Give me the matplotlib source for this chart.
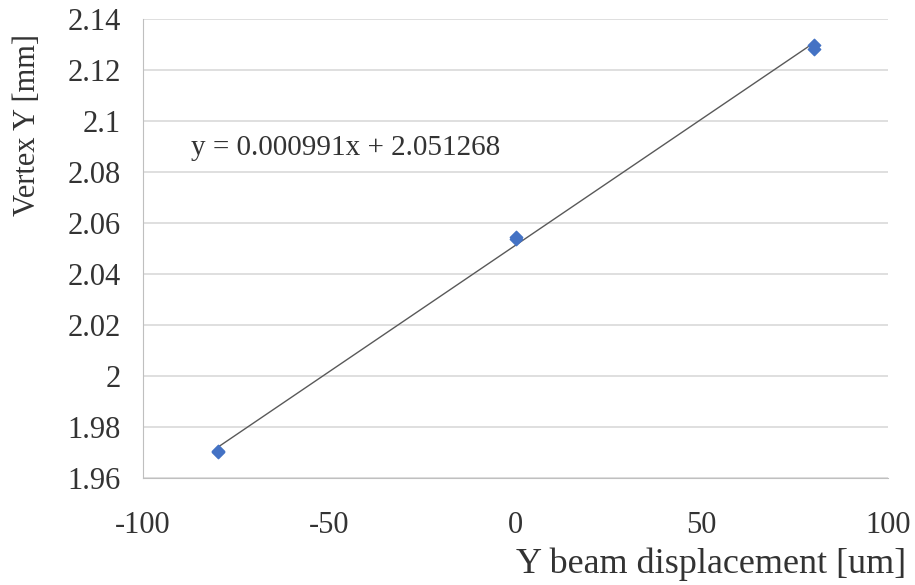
import numpy as np
import matplotlib.pyplot as plt

# beam displacement scan, vertex Y response
x_disp = [-80, -80, 0, 0, 80, 80]
vertex_y = [1.9706, 1.9703, 2.0545, 2.0537, 2.1298, 2.1284]

# linear fit parameters (shown on the chart)
slope = 0.000991
intercept = 2.051268

y_ticks = [1.96, 1.98, 2.0, 2.02, 2.04, 2.06, 2.08, 2.1, 2.12, 2.14]
y_tick_labels = ['1.96', '1.98', '2', '2.02', '2.04', '2.06', '2.08', '2.1', '2.12', '2.14']
x_ticks = [-100, -50, 0, 50, 100]
x_tick_labels = ['-100', '-50', '0', '50', '100']

plt.rcParams['font.family'] = ['Liberation Serif', 'DejaVu Serif']
plt.rcParams['axes.unicode_minus'] = False

fig = plt.figure(figsize=(9.15, 5.85), dpi=100)
ax = fig.add_axes([0.1563, 0.1829, 0.8142, 0.7846])

ax.set_xlim(-100, 100)
ax.set_ylim(1.96, 2.14)
ax.set_yticks(y_ticks)
ax.set_yticklabels(y_tick_labels)
ax.set_xticks(x_ticks)
ax.set_xticklabels(x_tick_labels)
ax.grid(axis='y', color='#d9d9d9', linewidth=1.2)
ax.set_axisbelow(True)
ax.tick_params(length=0, labelsize=22, colors='#333333')
ax.tick_params(axis='y', pad=16)
ax.tick_params(axis='x', pad=24)

for side in ['top', 'right']:
    ax.spines[side].set_visible(False)
ax.spines['left'].set_color('#bfbfbf')
ax.spines['bottom'].set_color('#bfbfbf')

# trendline
xs = np.array([min(x_disp), max(x_disp)])
ax.plot(xs, slope * xs + intercept, color='#595959', linewidth=1.0, zorder=2)

ax.scatter(x_disp, vertex_y, marker='D', s=40, color='#4472c4', zorder=3)

ax.text(-87, 2.0894, f'y = {slope:.6f}x + {intercept:.6f}', fontsize=21,
        color='#333333', va='center', ha='left')

fig.text(0.03, 0.787, 'Vertex Y [mm]', rotation=90, fontsize=22,
         color='#333333', ha='center', va='center')
fig.text(0.99, 0.035, 'Y beam displacement [um]', fontsize=26,
         color='#333333', ha='right', va='center')

fig.savefig('out.png', dpi=100)
